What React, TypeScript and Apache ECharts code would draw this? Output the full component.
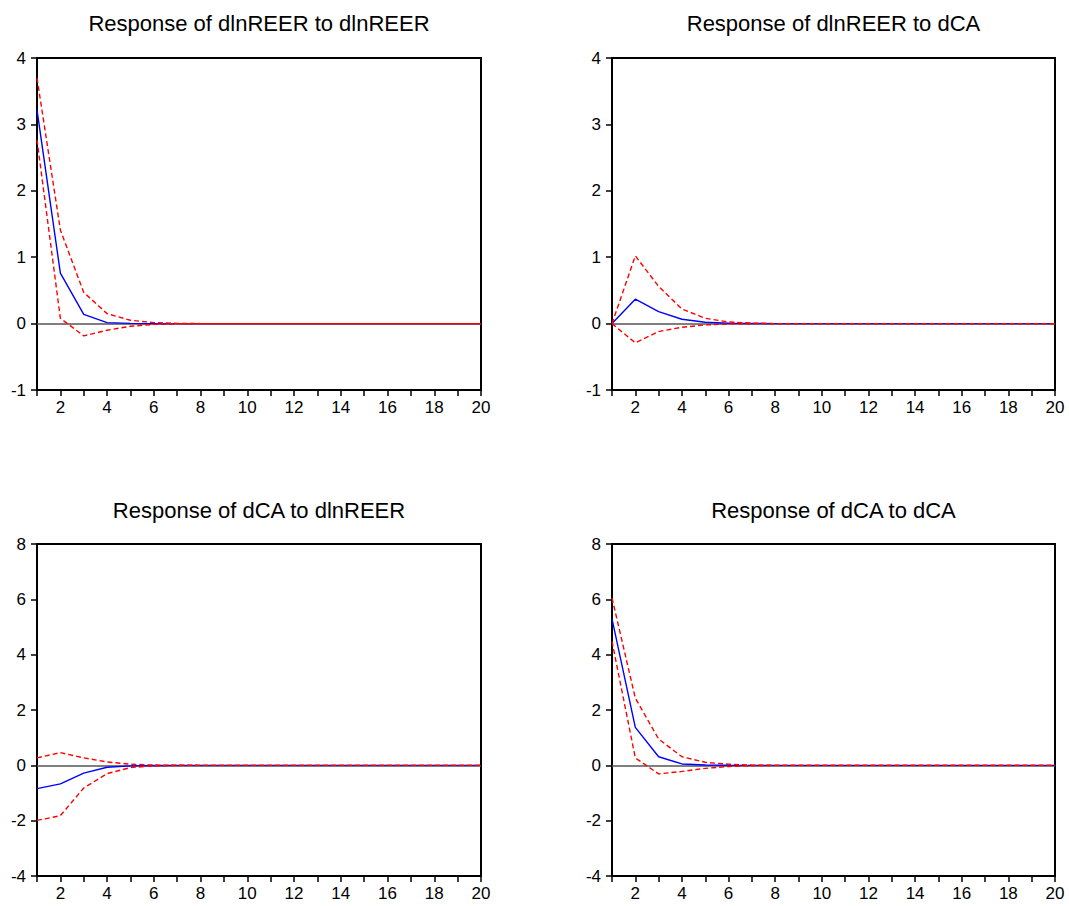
import React, { useEffect, useRef } from "react";
import * as echarts from "echarts";

const periods = [1, 2, 3, 4, 5, 6, 7, 8, 9, 10, 11, 12, 13, 14, 15, 16, 17, 18, 19, 20];

const titles = [
  "Response of dlnREER to dlnREER",
  "Response of dlnREER to dCA",
  "Response of dCA to dlnREER",
  "Response of dCA to dCA",
];

// Panel 1: dlnREER -> dlnREER
const p1Resp = [3.22, 0.76, 0.14, 0.015, 0.003, 0.0, 0, 0, 0, 0, 0, 0, 0, 0, 0, 0, 0, 0, 0, 0];
const p1Upper = [3.70, 1.41, 0.47, 0.15, 0.05, 0.015, 0.004, 0, 0, 0, 0, 0, 0, 0, 0, 0, 0, 0, 0, 0];
const p1Lower = [2.77, 0.08, -0.185, -0.1, -0.04, -0.012, -0.003, 0, 0, 0, 0, 0, 0, 0, 0, 0, 0, 0, 0, 0];

// Panel 2: dlnREER -> dCA
const p2Resp = [0, 0.367, 0.18, 0.066, 0.02, 0.005, 0.001, 0, 0, 0, 0, 0, 0, 0, 0, 0, 0, 0, 0, 0];
const p2Upper = [0, 1.02, 0.56, 0.22, 0.08, 0.025, 0.008, 0, 0, 0, 0, 0, 0, 0, 0, 0, 0, 0, 0, 0];
const p2Lower = [0, -0.29, -0.12, -0.055, -0.02, -0.005, -0.001, 0, 0, 0, 0, 0, 0, 0, 0, 0, 0, 0, 0, 0];

// Panel 3: dCA -> dlnREER
const p3Resp = [-0.84, -0.67, -0.28, -0.07, -0.02, -0.004, 0, 0, 0, 0, 0, 0, 0, 0, 0, 0, 0, 0, 0, 0];
const p3Upper = [0.27, 0.46, 0.27, 0.12, 0.04, 0.01, 0.002, 0, 0, 0, 0, 0, 0, 0, 0, 0, 0, 0, 0, 0];
const p3Lower = [-1.99, -1.82, -0.82, -0.30, -0.08, -0.02, -0.004, 0, 0, 0, 0, 0, 0, 0, 0, 0, 0, 0, 0, 0];

// Panel 4: dCA -> dCA
const p4Resp = [5.29, 1.37, 0.31, 0.05, 0.01, 0.002, 0, 0, 0, 0, 0, 0, 0, 0, 0, 0, 0, 0, 0, 0];
const p4Upper = [6.05, 2.43, 0.95, 0.31, 0.11, 0.04, 0.01, 0, 0, 0, 0, 0, 0, 0, 0, 0, 0, 0, 0, 0];
const p4Lower = [4.48, 0.27, -0.31, -0.22, -0.11, -0.04, -0.01, 0, 0, 0, 0, 0, 0, 0, 0, 0, 0, 0, 0, 0];

const yRanges = [
  { min: -1, max: 4, interval: 1 },
  { min: -1, max: 4, interval: 1 },
  { min: -4, max: 8, interval: 2 },
  { min: -4, max: 8, interval: 2 },
];

const panels = [
  [p1Resp, p1Upper, p1Lower],
  [p2Resp, p2Upper, p2Lower],
  [p3Resp, p3Upper, p3Lower],
  [p4Resp, p4Upper, p4Lower],
];

const FONT = "'Liberation Sans', Arial, sans-serif";

export default function App() {
  const ref = useRef<HTMLDivElement>(null);

  useEffect(() => {
    if (!ref.current) return;
    const chart = echarts.init(ref.current, null, { renderer: "svg" });

    const grids = [
      { left: 37, top: 58, width: 444, height: 332 },
      { left: 612, top: 58, width: 443, height: 332 },
      { left: 37, top: 544, width: 444, height: 332 },
      { left: 612, top: 544, width: 443, height: 332 },
    ];

    const titleTops = [12, 12, 499, 499];

    const pair = (arr: number[]) => periods.map((p, i) => [p, arr[i]]);

    const series: any[] = [];
    panels.forEach((pan, k) => {
      series.push({
        type: "line",
        xAxisIndex: k,
        yAxisIndex: k,
        data: pair(pan[0]),
        symbol: "none",
        lineStyle: { color: "#0000ff", width: 1.4 },
        z: 3,
        markLine: {
          silent: true,
          symbol: "none",
          label: { show: false },
          lineStyle: { color: "#555555", width: 1.5, type: "solid" },
          data: [{ yAxis: 0 }],
          z: 1,
        },
      });
      [pan[1], pan[2]].forEach((band) => {
        series.push({
          type: "line",
          xAxisIndex: k,
          yAxisIndex: k,
          data: pair(band),
          symbol: "none",
          lineStyle: { color: "#ff0000", width: 1.4, type: [5, 3] },
          z: 4,
        });
      });
    });

    chart.setOption({
      animation: false,
      backgroundColor: "#ffffff",
      title: titles.map((t, k) => ({
        text: t,
        left: grids[k].left + grids[k].width / 2,
        top: titleTops[k],
        textAlign: "center",
        padding: 0,
        textStyle: { fontFamily: FONT, fontSize: 22, fontWeight: "normal", color: "#000" },
      })),
      grid: grids.map((g) => ({
        ...g,
        show: true,
        borderColor: "#000",
        borderWidth: 2,
        backgroundColor: "transparent",
        containLabel: false,
      })),
      xAxis: grids.map((_, k) => ({
        type: "value",
        gridIndex: k,
        min: 1,
        max: 20,
        interval: 1,
        axisLine: { show: true, onZero: false, lineStyle: { color: "#000", width: 2 } },
        axisTick: { show: true, inside: false, length: 6, lineStyle: { color: "#000", width: 1.5 } },
        splitLine: { show: false },
        axisLabel: {
          color: "#000",
          fontFamily: FONT,
          fontSize: 17,
          margin: 9,
          showMinLabel: true,
          showMaxLabel: true,
          formatter: (v: number) => (v % 2 === 0 ? String(v) : ""),
        },
      })),
      yAxis: grids.map((_, k) => ({
        type: "value",
        gridIndex: k,
        min: yRanges[k].min,
        max: yRanges[k].max,
        interval: yRanges[k].interval,
        axisLine: { show: true, onZero: false, lineStyle: { color: "#000", width: 2 } },
        axisTick: { show: true, inside: false, length: 6, lineStyle: { color: "#000", width: 1.5 } },
        splitLine: { show: false },
        axisLabel: {
          color: "#000",
          fontFamily: FONT,
          fontSize: 17,
          margin: 11,
          showMinLabel: true,
          showMaxLabel: true,
        },
      })),
      series,
    });

    return () => chart.dispose();
  }, []);

  return (
    <div
      ref={ref}
      style={{ position: "fixed", left: 0, top: 0, width: 1069, height: 906, background: "#fff" }}
    />
  );
}
